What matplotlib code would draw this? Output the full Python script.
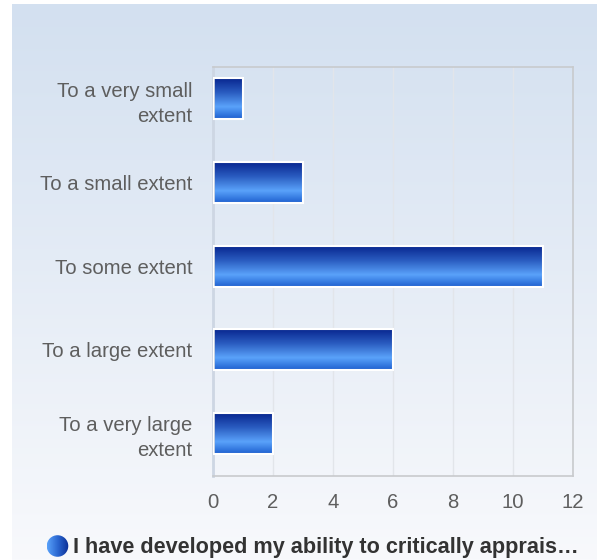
import numpy as np
import matplotlib
matplotlib.use("Agg")
import matplotlib.pyplot as plt
from matplotlib.colors import LinearSegmentedColormap

categories = ["To a very small\nextent", "To a small extent", "To some extent",
              "To a large extent", "To a very large\nextent"]
values = [1, 3, 11, 6, 2]
xticks = [0, 2, 4, 6, 8, 10, 12]
legend_label = "I have developed my ability to critically apprais\u2026"

plt.rcParams['font.family'] = ['Liberation Sans', 'DejaVu Sans']

W, H = 597, 560
fig = plt.figure(figsize=(W / 100, H / 100), dpi=100)
fig.patch.set_facecolor('white')

# background panel gradient
bg = fig.add_axes([12 / W, 0, 1 - 12 / W, 1 - 4 / H])
bg_cmap = LinearSegmentedColormap.from_list('bg', ['#d3e0f0', '#f8f9fc'])
bg.imshow(np.linspace(0, 1, 256).reshape(-1, 1), aspect='auto', cmap=bg_cmap,
          extent=[0, 1, 0, 1], origin='upper')
bg.set_axis_off()

ax = fig.add_axes([213 / W, 1 - 476 / H, 360 / W, 409 / H])
ax.patch.set_alpha(0)

bar_cmap = LinearSegmentedColormap.from_list(
    'bar', [(0.0, '#08268f'), (0.35, '#2a5cc0'), (0.7, '#5aa2fa'), (1.0, '#1d5fcf')])
grad = np.linspace(0, 1, 256).reshape(-1, 1)

y = np.arange(len(categories))
bars = ax.barh(y, values, height=0.49, color='none', edgecolor='white', linewidth=1.5, zorder=3)
for b in bars:
    x0, y0 = b.get_x(), b.get_y()
    w, h = b.get_width(), b.get_height()
    im = ax.imshow(grad, aspect='auto', cmap=bar_cmap, extent=[x0, x0 + w, y0 + h, y0],
                   origin='upper', zorder=2)
    im.set_clip_path(b)

ax.set_xlim(0, 12)
ax.set_ylim(4.51, -0.38)

ax.set_xticks(xticks)
ax.set_xticklabels([str(t) for t in xticks])
ax.set_yticks(y)
ax.set_yticklabels(categories, linespacing=1.4, ha='right')
ax.tick_params(axis='both', length=0, labelsize=14.6, colors='#5e5e5e')
ax.tick_params(axis='y', pad=15)
ax.tick_params(axis='x', pad=12)

ax.grid(axis='x', color='#e2e5ea', linewidth=1, zorder=0)
ax.set_axisbelow(True)
for side in ['top', 'right', 'bottom']:
    ax.spines[side].set_color('#c8cacd')
    ax.spines[side].set_linewidth(1.2)
ax.spines['left'].set_color('#cdd6e3')
ax.spines['left'].set_linewidth(2)

# legend
fig.text(73 / W, 1 - 548 / H, legend_label, fontsize=15.6, fontweight='bold',
         color='#333333', va='center', ha='left')
leg_ax = fig.add_axes([46.5 / W, 1 - 557 / H, 22 / W, 22 / H])
leg_ax.set_axis_off()
circ_cmap = LinearSegmentedColormap.from_list('c', ['#5aa2fa', '#2a66d0', '#0a2d94'])
ci = leg_ax.imshow(np.linspace(0, 1, 256).reshape(1, -1), aspect='auto', cmap=circ_cmap,
                   extent=[0, 1, 0, 1])
circle = plt.Circle((0.5, 0.5), 0.49, transform=leg_ax.transData)
ci.set_clip_path(circle)
leg_ax.set_xlim(0, 1)
leg_ax.set_ylim(0, 1)

fig.savefig('out.png', dpi=100)
